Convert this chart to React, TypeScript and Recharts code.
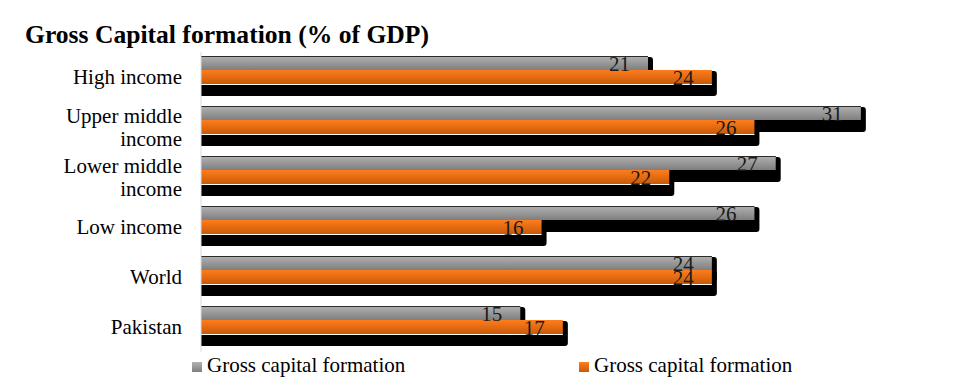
import { Bar, BarChart, LabelList, XAxis, YAxis } from "recharts";

const CATEGORIES = ["High income", "Upper middle income", "Lower middle income", "Low income", "World", "Pakistan"];
const GRAY_VALUES = [21, 31, 27, 26, 24, 15];
const ORANGE_VALUES = [24, 26, 22, 16, 24, 17];
const SERIES_NAMES = ["Gross capital formation", "Gross capital formation"];

const data = CATEGORIES.map((name, i) => ({ name, gray: GRAY_VALUES[i], orange: ORANGE_VALUES[i] }));

const SERIF = "'Liberation Serif', 'Times New Roman', serif";
// bars sit a little above the band centre, leaving room for the drop shadow
const LIFT = 7;

// split long category names into two lines
const LINES: Record<string, string[]> = {
  "Upper middle income": ["Upper middle", "income"],
  "Lower middle income": ["Lower middle", "income"],
};

function CategoryTick(props: any) {
  const { x, y, payload } = props;
  const lines = LINES[payload.value] ?? [payload.value];
  const start = -((lines.length - 1) * 23) / 2;
  return (
    <text x={x} y={y} textAnchor="end" fontFamily={SERIF} fontSize={21} fill="#000">
      {lines.map((l, i) => (
        <tspan key={i} x={x} dy={i === 0 ? start + 7 : 23}>
          {l}
        </tspan>
      ))}
    </text>
  );
}

function ShadowBar(props: any) {
  const { x, y, width, height, fill, topLine, gap } = props;
  if (!width || width <= 0) return null;
  const top = y - LIFT;
  const sy = top + 1;
  const sh = height + 11;
  const sw = width + 5;
  const r = 3;
  const shadow = `M${x},${sy} H${x + sw - r} Q${x + sw},${sy} ${x + sw},${sy + r} V${sy + sh - r} Q${x + sw},${sy + sh} ${x + sw - r},${sy + sh} H${x} Z`;
  return (
    <g>
      <path d={shadow} fill="#000" />
      <rect x={x} y={top} width={width} height={height} fill={fill} />
      {topLine && <rect x={x} y={top} width={width} height={1} fill="#2b2b2b" />}
      {gap && <rect x={x} y={top + height} width={width} height={1} fill="#fff" />}
    </g>
  );
}

function EndLabel(props: any) {
  const { x, y, width, height, value } = props;
  return (
    <text
      x={x + width - 18}
      y={y - LIFT + height / 2 + 8}
      textAnchor="end"
      fontFamily={SERIF}
      fontSize={21}
      fill="#1a1a1a"
    >
      {value}
    </text>
  );
}

const legendItem = (left: number, bg: string, label: string) => (
  <div style={{ position: "absolute", left, top: 347, height: 21, fontFamily: SERIF, fontSize: 21, lineHeight: "21px" }}>
    <span style={{ position: "absolute", left: 0, top: 7, width: 10, height: 10, background: bg }} />
    <span style={{ position: "absolute", left: 15, top: 0, whiteSpace: "nowrap" }}>{label}</span>
  </div>
);

export default function App() {
  return (
    <div
      style={{
        position: "relative",
        width: 946,
        height: 375,
        margin: "-1px 0 0 -1px",
        borderTop: "1px solid #d9dbe6",
        borderLeft: "1px solid #d9dbe6",
        background: "#fff",
      }}
    >
      <div style={{ position: "absolute", left: 469, top: -31, fontFamily: SERIF, fontSize: 25, lineHeight: "25px", fontWeight: 700 }}>g</div>
      <div
        style={{
          position: "absolute",
          left: 17,
          top: 14,
          fontFamily: SERIF,
          fontSize: 25.6,
          lineHeight: "25px",
          fontWeight: 700,
          whiteSpace: "nowrap",
        }}
      >
        Gross Capital formation (% of GDP)
      </div>
      <BarChart
        width={938}
        height={375}
        data={data}
        layout="vertical"
        margin={{ top: 44, right: 0, bottom: 31, left: 0 }}
        barGap={0}
        barSize={14}
      >
        <defs>
          <linearGradient id="grayFill" x1="0" y1="0" x2="0" y2="1">
            <stop offset="0%" stopColor="#b2b2b2" />
            <stop offset="100%" stopColor="#7e7e7e" />
          </linearGradient>
          <linearGradient id="orangeFill" x1="0" y1="0" x2="0" y2="1">
            <stop offset="0%" stopColor="#ff7d1c" />
            <stop offset="100%" stopColor="#c95a08" />
          </linearGradient>
        </defs>
        <XAxis type="number" domain={[0, 35]} hide />
        <YAxis
          type="category"
          dataKey="name"
          width={193}
          axisLine={{ stroke: "#d9dbe6" }}
          tickLine={false}
          tickSize={0}
          tickMargin={19}
          tick={<CategoryTick />}
          interval={0}
        />
        <Bar
          dataKey="gray"
          name={SERIES_NAMES[0]}
          fill="url(#grayFill)"
          isAnimationActive={false}
          shape={<ShadowBar topLine />}
        >
          <LabelList dataKey="gray" content={<EndLabel />} />
        </Bar>
        <Bar
          dataKey="orange"
          name={SERIES_NAMES[1]}
          fill="url(#orangeFill)"
          isAnimationActive={false}
          shape={<ShadowBar gap />}
        >
          <LabelList dataKey="orange" content={<EndLabel />} />
        </Bar>
      </BarChart>
      {legendItem(184, "linear-gradient(#b2b2b2, #7e7e7e)", SERIES_NAMES[0])}
      {legendItem(571, "linear-gradient(#ff7d1c, #c95a08)", SERIES_NAMES[1])}
    </div>
  );
}
